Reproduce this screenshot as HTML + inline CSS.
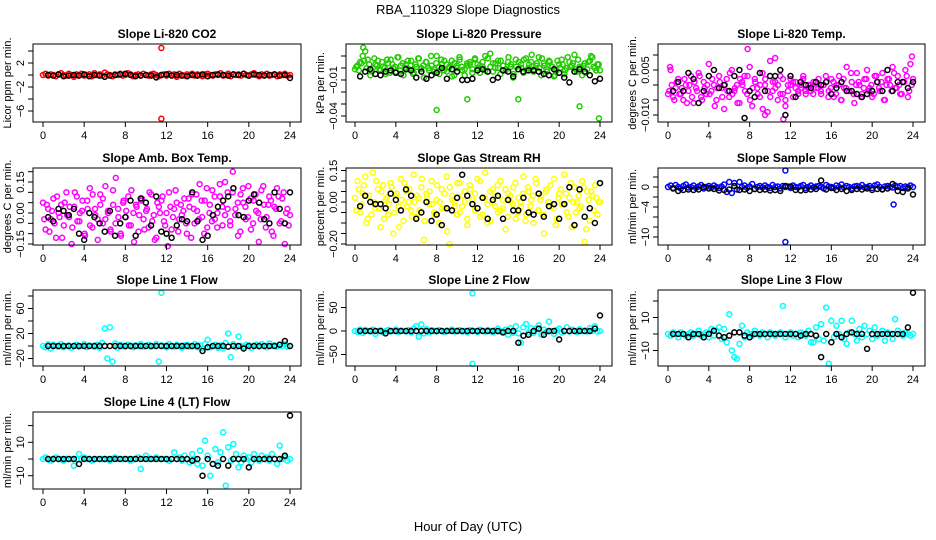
<!DOCTYPE html>
<html><head><meta charset="utf-8"><style>
html,body{margin:0;padding:0;background:#fff;}
svg{display:block;font-family:"Liberation Sans",sans-serif;}
</style></head><body>
<svg id="chart" width="936" height="540" viewBox="0 0 936 540">
<rect width="936" height="540" fill="#fff"/>
<text x="468" y="14" font-size="13" text-anchor="middle">RBA_110329  Slope Diagnostics</text>
<text x="468" y="531" font-size="13" text-anchor="middle">Hour of Day (UTC)</text>
</svg>
<script>
const xTicks = [0,4,8,12,16,20,24];
// CO2
const co2Col = [0,.2,-.1,.1,0,-.2,.1,.3,0,-.1,.2,0,-.3,.1,0,.2,-.1,0,.1,-.2,.3,0,.1,-.1,.4,.1,0,-.2,.1,0,.2,-.1,0,.3,.1,-.2,0,.1,-.1,.2,0,-.1,.1,.2,0,-.2,0,.1,-.1,.2,0,.1,-.3,.2,0,-.1,.1,0,.2,-.1,.1,0,-.2,.1,.2,0,-.1,.1,0,.3,-.1,0,.2,-.2,.1,0,.1,-.1,.2,0,-.1,.1,.3,0,-.2,.1,0,.2,-.1,0,.1,-.2,.1,0,.2,-.1,0];
const co2Blk = [0,-.1,.1,-.2,-.1,0,-.1,.1,-.2,0,-.1,-.3,-.1,0,.1,.2,0,-.2,-.1,0,-.1,-.4,0,.1,-.1,0,-.1,-.2,0,-.1,.1,-.2,0,.1,0,-.1,.1,0,.2,-.1,.1,0,-.1,0,.1,-.1,0,-.5];
const co2OutX = [11.5,11.5]; const co2OutY = [4.5,-7.3];
// Pressure (x0.001)
const presCol = [-1,2,5,10,14,7,-6,0,3,6,-2,1,-5,4,7,0,-3,9,2,-6,3,-1,6,-4,1,8,0,-8,5,-2,2,-1,10,-5,3,6,-3,1,-7,4,0,7,-2,-6,2,5,-1,8,3,-4,1,10,-3,12,4,0,6,-5,2,-2,5,1,-8,7,-1,3,-4,8,0,5,-3,2,9,-6,4,-1,6,1,-7,-2,3,7,-5,0,5,2,11,-3,1,-6,4,-1,6,9,0,3,-2];
const presCol2 = [1,-2,4,6,0,3,-3,8,2,-1,5,0,7,-4,3,1,9,-2,4,0,6,2,-5,3,8,-1,2,5,0,10,-3,4,1,7,-2,3,0,6,-6,2,9,1,-1,4,3,-4,7,0,2,5,-2,8,1,-3,4,0,6,2,-1,9,3,-5,1,5,0,7,-2,3,11,-1,4,0,8,2,-3,5,1,-6,6,0,3,-2,9,1,4,-1,7,0,2,-4,5,10,1,-2,3];
const presBlk = [-7,-3,-1,-5,-6,-3,-2,-4,-5,-1,-2,-8,-3,-9,-6,-4,0,-9,-1,-3,-10,-10,-9,-2,-1,-3,-10,-8,-2,-3,-7,-1,-3,-2,-2,-3,-5,-6,-1,-4,-8,-12,-3,-1,-3,-6,-11,-9];
const presOutX = [8,11,16,22,23.9,0.8]; const presOutY = [-35,-26,-26,-32,-42,17];
// Li-820 Temp (x0.001)
const tempCol = [-3,5,-4,-1,2,-3,-5,0,-2,3,-6,-1,4,-4,1,-3,7,-2,0,-5,3,-1,-8,2,-4,5,-2,0,-6,1,3,-3,6,-7,2,-1,-4,4,0,-9,8,-2,1,-5,3,-3,-7,0,2,-4,1,-2,-1,3,-3,0,-2,1,-1,2,-3,0,1,-2,2,-4,0,3,-5,-1,6,-2,1,-6,4,0,-3,2,5,-1,-4,3,1,-2,4,-5,2,0,6,-1,3,-3,1,5,-4,7,2];
const tempCol2 = [-2,0,-5,1,-3,-1,2,-6,0,-4,1,-2,3,-5,-1,0,-3,2,-7,-1,1,-4,0,-2,4,-3,-1,-6,2,0,-2,3,-5,-1,1,-3,0,-8,2,-2,-4,1,-1,0,-3,2,-5,-2,0,1,-1,-3,0,2,-2,-1,0,-3,1,-1,-2,0,3,-4,-1,1,-3,0,-5,2,-1,-2,4,-3,0,1,-4,-1,2,-2,0,-3,3,-1,1,-5,0,2,-2,4,-1,0,-3,1,3,-2,0];
const tempBlk = [-2,1,-2,4,2,-6,-2,3,5,-1,0,-2,3,5,-11,-2,-4,4,-2,3,3,5,-10,3,-4,1,0,-1,1,0,1,-3,-1,1,-2,-2,-3,-4,-3,-2,1,-2,5,-2,1,1,-1,1];
const tempOutX = [7.8,10.5,23.9,9.5,11.3,0.2]; const tempOutY = [12,9,9.5,-10,-11.4,6];
// Amb box temp (x0.01)
const ambCol = [5,-8,2,-3,7,-12,0,4,-6,10,-2,-15,3,8,-4,1,-10,6,12,-7,2,-3,9,-5,13,0,-9,4,17,-2,-11,6,1,-6,11,-14,3,-1,7,-8,2,10,-4,-13,5,0,8,-6,-16,3,-2,11,-9,4,1,-5,7,-12,2,9,-3,6,-10,12,0,-4,8,-7,14,3,-1,10,-6,20,2,-11,9,5,-3,13,-8,6,1,-14,11,4,-2,8,-9,3,12,-5,7,-15,2,-1];
const ambCol2 = [-3,4,-9,1,-5,8,-2,-12,5,-1,3,-7,10,-4,0,6,-11,2,-6,9,-1,-13,4,7,-3,1,-8,11,-5,2,-10,5,-2,8,-6,0,4,-9,6,-3,1,-7,9,-1,-12,3,6,-4,0,10,-8,2,5,-3,-1,7,-10,3,9,-5,1,14,-2,6,-7,4,11,-3,0,8,-6,15,2,-4,10,-1,5,-9,12,3,-2,7,-5,9,0,-3,13,-7,4,6,-11,2,8,-4,10,0,-6];
const ambBlk = [-2,-4,2,1,-1,2,-10,-13,0,-2,-5,-9,1,-11,-5,-2,6,-11,7,5,-6,8,-9,-10,-12,-6,-3,-4,10,-4,-13,-11,-1,3,6,8,12,-1,-2,6,9,5,-3,-5,10,2,-5,10];
// RH (x0.01)
const rhCol = [2,10,-5,4,12,-8,0,14,-3,6,-12,8,1,-6,9,-15,3,-2,11,-9,5,0,-4,13,-7,2,7,-18,4,-1,10,-5,1,-10,6,-3,12,-20,3,0,-6,9,-2,5,-11,8,1,-4,11,-7,2,14,-1,-9,6,3,-5,10,-3,-13,4,0,7,-8,2,-2,12,-6,5,1,-10,9,-4,3,-15,6,0,-2,11,-8,4,-1,13,-5,2,-12,7,0,-3,10,-19,5,-9,3,8,-6,0];
const rhCol2 = [-4,6,-1,8,-10,3,-6,0,10,-3,5,-8,2,-1,7,-5,4,-12,1,9,-2,6,-7,0,3,-4,11,-9,2,5,-1,-6,8,0,-3,4,-14,7,1,-2,9,-5,3,0,-8,6,-1,4,-3,10,-6,2,-10,5,0,-2,8,-4,1,6,-7,3,-1,9,-5,0,4,-9,7,-2,3,11,-4,1,-6,5,0,8,-3,-11,2,6,-1,4,-7,9,0,-5,3,-2,7,-13,1,5,-4,2,0];
const rhBlk = [-2,3,0,-1,-1,-3,4,1,-4,6,3,-8,-5,0,-9,-6,-11,-3,-4,2,13,3,-1,-3,2,-8,1,3,-8,1,-4,-4,2,-5,-6,4,-7,-2,-1,-8,-1,7,-11,6,-7,-3,-10,9];
// Sample flow
const sfCol = [0,.3,-.2,.4,0,-.3,.2,.5,-.1,0,.3,-.2,.1,.4,-.3,0,.2,-.1,.3,0,-.2,.1,.5,-1,1,-1.2,.8,-.5,1,0,.3,-.2,.1,.6,-.4,0,.2,-.1,.3,0,-.2,.4,0,.1,-.3,.2,0,.1,-.2,.3,0,-.1,.2,.4,-.2,0,.3,-.1,.1,.2,0,-.3,.4,.1,0,-.2,.3,0,.5,-.1,.2,0,-.3,.1,.2,0,.4,-.1,0,.2,-.2,.3,.5,0,-.4,.1,.2,0,-.1,.3,0,.2,-.2,.1,0,.3,0];
const sfBlk = [-.3,-.8,-.6,-.5,-.6,-.5,0,-.3,-.4,-.7,-.6,-.5,.2,-.6,-.5,-.8,-.4,-.6,-.5,-.7,-.6,-.8,.2,.1,-.6,-.7,-.6,-.5,-.4,1.3,-.5,-.2,-.6,-.4,-.8,-.6,-.4,-.5,-.3,-.6,-.4,-.5,-.3,.6,-.8,-1,-.3,-1.5];
const sfOutX = [11.5,11.5,22.1]; const sfOutY = [3.3,-11,-3.5];
// Line 1
const l1Col = [0,-2,3,-4,2,0,-1,3,-2,0,1,-3,0,2,-1,0,3,-2,1,0,-1,2,-3,5,28,-20,30,-25,4,-3,2,0,-1,2,0,-2,1,0,3,-1,0,2,-1,0,3,-25,1,0,-2,3,0,-1,2,0,-3,1,2,-1,0,3,-2,1,-4,3,10,-2,0,2,-3,1,-4,5,20,-18,3,-2,15,0,-1,2,1,-3,0,2,-1,3,0,-2,4,0,1,-1,2,0,3,-1,0];
const l1Blk = [0,0,0,0,0,0,0,0,0,0,0,0,0,0,0,0,0,0,0,0,0,0,0,0,0,0,0,0,0,0,-8,-2,0,0,0,-1,0,0,-4,0,0,0,0,0,0,2,8,0];
const l1OutX = [11.5]; const l1OutY = [85];
// Line 2
const l2Col = [0,-2,3,-4,2,0,-1,3,-6,0,1,-3,0,2,-1,0,3,-2,1,0,-1,2,-3,5,10,-12,14,-5,4,-3,2,0,-1,2,0,-2,1,0,3,-1,0,2,-1,0,-3,2,1,0,-2,3,0,-1,2,0,-3,1,5,-1,0,3,-8,6,-4,10,-5,-25,8,15,-3,6,-4,5,12,-8,3,-2,20,0,-6,2,5,-3,0,8,-1,3,0,-2,4,0,1,-1,6,0,10,-1,0];
const l2Blk = [0,0,0,0,0,-5,0,0,0,0,0,0,0,0,0,0,0,0,0,0,0,0,0,0,0,0,0,0,-3,0,0,-25,-10,-8,0,5,-8,0,0,-18,0,0,0,0,0,0,5,33];
const l2OutX = [11.5,11.5]; const l2OutY = [80,-70];
// Line 3
const l3Col = [0,-1,1,0,-2,1,0,-1,0,1,-1,0,2,-1,0,1,-2,3,-1,2,4,-3,3,-5,12,-10,-14,-15,-6,5,-2,1,0,-1,2,0,-1,1,0,-2,1,0,-1,0,1,17,-2,0,1,-1,0,-2,1,0,-1,2,-5,-5,4,-3,6,-4,16,-18,8,-2,5,0,8,-3,-6,1,8,0,-4,3,-2,5,0,2,-3,4,-1,0,2,-4,1,0,-3,9,2,0,-1,1,0,-1,0];
const l3Blk = [0,0,0,-2,0,0,-2,0,2,-1,-2,-1,1,1,-1,-2,0,0,0,0,0,0,0,0,0,-1,0,0,-1,-14,0,-5,0,-2,0,1,0,0,-9,0,0,0,0,0,0,0,4,25];
// Line 4
const l4Col = [0,1,0,-1,0,1,0,0,-1,0,0,0,-4,0,3,0,1,0,0,-1,0,0,0,0,0,0,-1,0,1,0,0,0,0,0,-1,0,0,1,-6,0,2,0,0,0,1,0,0,0,0,-1,0,4,0,1,-1,2,0,-2,3,0,-3,5,-4,11,2,-10,-3,6,-2,4,16,-16,7,-1,9,3,-5,-2,2,0,1,-2,3,0,-1,2,0,1,-1,3,0,-3,8,0,1,-1,0];
const l4Blk = [0,0,0,0,0,0,-3,0,0,0,0,0,0,0,0,0,0,0,0,0,0,0,0,0,0,0,0,0,-1,0,-10,0,-3,-4,0,-4,0,0,0,-5,0,0,0,0,0,0,2,26];

const panels = [
 {name:'co2',title:'Slope Li-820 CO2',ylab:'Licor ppm per min.',col:0,row:0,color:'#ff0000',c:co2Col,c2:[],b:co2Blk,ox:co2OutX,oy:co2OutY,v0:0,p0:75,v1:-6,p1:111,ticks:[4,2,0,-2,-4,-6],labs:['','2','','\u22122','','\u22126']},
 {name:'pressure',title:'Slope Li-820 Pressure',ylab:'kPa per min.',col:1,row:0,color:'#22cc00',c:presCol,c2:presCol2,b:presBlk,ox:presOutX,oy:presOutY,v0:0,p0:68,v1:-40,p1:116,ticks:[10,0,-10,-20,-30,-40],labs:['','','\u22120.01','','','\u22120.04']},
 {name:'li820-temp',title:'Slope Li-820 Temp.',ylab:'degrees C per min.',col:2,row:0,color:'#ff00ff',c:tempCol,c2:tempCol2,b:tempBlk,ox:tempOutX,oy:tempOutY,v0:0,p0:85,v1:-10,p1:115,ticks:[10,5,0,-5,-10],labs:['','0.005','','','\u22120.010']},
 {name:'amb-box-temp',title:'Slope Amb. Box Temp.',ylab:'degrees C per min.',col:0,row:1,color:'#ff00ff',c:ambCol,c2:ambCol2,b:ambBlk,ox:[],oy:[],v0:0,p0:213,v1:-15,p1:244,ticks:[20,15,10,5,0,-5,-10,-15],labs:['','0.15','','','0.00','','','\u22120.15']},
 {name:'gas-stream-rh',title:'Slope Gas Stream RH',ylab:'percent per min.',col:1,row:1,color:'#ffff00',c:rhCol,c2:rhCol2,b:rhBlk,ox:[],oy:[],v0:0,p0:202,v1:-20,p1:244,ticks:[15,10,5,0,-5,-10,-15,-20],labs:['0.15','','','0.00','','','','\u22120.20']},
 {name:'sample-flow',title:'Slope Sample Flow',ylab:'ml/min per min.',col:2,row:1,color:'#0000ff',c:sfCol,c2:[],b:sfBlk,ox:sfOutX,oy:sfOutY,v0:0,p0:187,v1:-10,p1:237,ticks:[2,0,-2,-4,-6,-8,-10],labs:['','0','','\u22124','','','\u221210']},
 {name:'line1-flow',title:'Slope Line 1 Flow',ylab:'ml/min per min.',col:0,row:2,color:'#00ffff',c:l1Col,c2:[],b:l1Blk,ox:l1OutX,oy:l1OutY,v0:0,p0:346,v1:80,p1:296,ticks:[80,60,40,20,0,-20],labs:['','60','','20','','\u221220']},
 {name:'line2-flow',title:'Slope Line 2 Flow',ylab:'ml/min per min.',col:1,row:2,color:'#00ffff',c:l2Col,c2:[],b:l2Blk,ox:l2OutX,oy:l2OutY,v0:0,p0:331,v1:50,p1:307.5,ticks:[50,0,-50],labs:['50','0','\u221250']},
 {name:'line3-flow',title:'Slope Line 3 Flow',ylab:'ml/min per min.',col:2,row:2,color:'#00ffff',c:l3Col,c2:[],b:l3Blk,ox:[],oy:[],v0:0,p0:334,v1:-10,p1:350.5,ticks:[20,10,0,-10],labs:['','10','','\u221210']},
 {name:'line4-flow',title:'Slope Line 4 (LT) Flow',ylab:'ml/min per min.',col:0,row:3,color:'#00ffff',c:l4Col,c2:[],b:l4Blk,ox:[],oy:[],v0:0,p0:459,v1:-10,p1:475.7,ticks:[20,10,0,-10],labs:['','10','','\u221210']}
];
const boxX = [[33,301,43,290],[346,612,355,600],[658,925,668,913]];
const boxY = [[44,122],[168,245],[290,366],[412,489]];
const NS='http://www.w3.org/2000/svg';
const svg=document.getElementById('chart');
function mk(tag,attrs,parent){const e=document.createElementNS(NS,tag);for(const k in attrs)e.setAttribute(k,attrs[k]);(parent||svg).appendChild(e);return e;}
panels.forEach(p=>{
  const [bl,br,x0,x1]=boxX[p.col];const [bt,bb]=boxY[p.row];
  const g=mk('g',{});
  
  
  const sx=h=>x0+(x1-x0)*h/24;
  const sy=v=>p.p0+(p.p1-p.p0)*(v-p.v0)/(p.v1-p.v0);
  const cx=(bl+br)/2;
  const t=mk('text',{x:cx,y:bt-6,'font-size':12,'font-weight':'bold','text-anchor':'middle'},g);
  t.textContent=p.title;
  
  
  const yl=mk('text',{x:0,y:0,'font-size':11,'text-anchor':'middle',transform:`translate(${bl-22},${(bt+bb)/2}) rotate(-90)`},g);
  yl.textContent=p.ylab;
  
  
  const pts=mk('g',{fill:'none','stroke-width':1.5},g);
  
  
  const n=p.c.length;
  p.c.forEach((v,i)=>{const h=24*i/(n-1);const c=mk('circle',{cx:sx(h),cy:sy(v),r:2.5,stroke:p.color},pts);
    
    });
  const n2=p.c2.length;
  p.c2.forEach((v,i)=>{const h=24*(i+0.5)/n2;const c=mk('circle',{cx:sx(h),cy:sy(v),r:2.5,stroke:p.color},pts);
    
    });
  p.ox.forEach((h,i)=>{const c=mk('circle',{cx:sx(h),cy:sy(p.oy[i]),r:2.5,stroke:p.color},pts);
    
    });
  const m=p.b.length;
  p.b.forEach((v,i)=>{const h=0.5+23.5*i/(m-1);const c=mk('circle',{cx:sx(h),cy:sy(v),r:2.5,stroke:'#000'},pts);
    
    });
  const box=mk('rect',{x:bl,y:bt,width:br-bl,height:bb-bt,fill:'none',stroke:'#000','stroke-width':1},g);
  
  
  xTicks.forEach(h=>{mk('line',{x1:sx(h),x2:sx(h),y1:bb,y2:bb+5,stroke:'#000'},g);
    const tl=mk('text',{x:sx(h),y:bb+17,'font-size':11,'text-anchor':'middle'},g);tl.textContent=h;
    
    });
  p.ticks.forEach((v,i)=>{const y=sy(v);mk('line',{x1:bl-5,x2:bl,y1:y,y2:y,stroke:'#000'},g);
    if(p.labs[i]){const tl=mk('text',{x:0,y:0,'font-size':11,'text-anchor':'middle',transform:`translate(${bl-9},${y}) rotate(-90)`},g);tl.textContent=p.labs[i];
      
      }});
});
</script>
</body></html>
